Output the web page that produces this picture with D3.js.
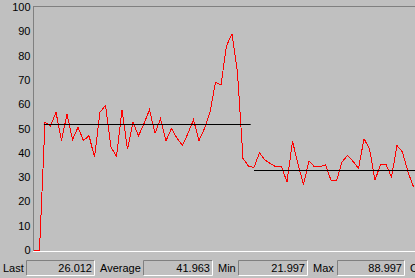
<!DOCTYPE html>
<html>
<head>
<meta charset="utf-8">
<script src="https://cdn.jsdelivr.net/npm/d3@7"></script>
<style>
  html, body { margin: 0; padding: 0; background: #c0c0c0; }
  svg { display: block; font-family: "Liberation Sans", Arial, sans-serif; }
</style>
</head>
<body>
<div class="monitor"></div>
<script>
// samples, one per step
const samples = [
  0, 0, 52.5, 51, 56.7, 45, 56, 45.4, 50.5, 45,
  47.1, 38.2, 56.7, 59.5, 42.3, 38.5, 57.7, 41.5, 52.6, 47,
  52, 57.7, 48, 54, 45, 50, 46, 43, 48, 53.6,
  45, 50, 56.7, 69, 68, 84, 89, 73, 37.7, 34.5,
  34, 40, 37, 35.5, 34.2, 34.2, 28, 44.8, 35.3, 27,
  36.7, 34.2, 34.2, 35.1, 28.7, 28.4, 36.2, 38.9, 36.5, 33.5,
  45.8, 41.7, 28.7, 35.2, 35.2, 30, 43, 40.3, 32.1, 26
];

// average levels (black lines), given as sample index ranges
const meanStart = [1.8, 40];
const meanEnd = [39.4, 70];
const meanValue = [51.9, 33.1];

const yTicks = [0, 10, 20, 30, 40, 50, 60, 70, 80, 90, 100];

const statLabels = ["Last", "Average", "Min", "Max"];
const statValues = ["26.012", "41.963", "21.997", "88.997"];

const width = 415, height = 278;

const svg = d3.select(".monitor")
    .append("svg")
    .attr("width", width)
    .attr("height", height);

svg.append("rect")
    .attr("width", width)
    .attr("height", height)
    .attr("fill", "#c0c0c0");

const x = d3.scaleLinear()
    .domain([0, samples.length - 1])
    .range([34, 413.5]);

const y = d3.scaleLinear()
    .domain([0, 100])
    .range([250, 7]);

// frame
svg.append("line")
    .attr("x1", 33).attr("x2", width)
    .attr("y1", 6.5).attr("y2", 6.5)
    .attr("stroke", "#808080");
svg.append("line")
    .attr("x1", 33.5).attr("x2", 33.5)
    .attr("y1", 6).attr("y2", 251)
    .attr("stroke", "#808080");
svg.append("line")
    .attr("x1", 33).attr("x2", width)
    .attr("y1", 251.5).attr("y2", 251.5)
    .attr("stroke", "#ffffff");

const yAxis = svg.append("g")
    .attr("transform", "translate(33.5,0)")
    .call(d3.axisLeft(y).tickValues(yTicks).tickSize(0).tickPadding(3));
yAxis.select(".domain").remove();
yAxis.selectAll("text")
    .attr("font-size", 11)
    .attr("font-family", "Liberation Sans, Arial, sans-serif")
    .attr("fill", "#000");

// trace
const line = d3.line()
    .x((d, i) => x(i))
    .y(d => y(d));

svg.append("path")
    .datum(samples)
    .attr("fill", "none")
    .attr("stroke", "#ff0000")
    .attr("stroke-width", 1)
    .attr("shape-rendering", "crispEdges")
    .attr("d", line);

svg.append("g")
    .selectAll("line")
    .data(meanValue)
    .join("line")
    .attr("x1", (d, i) => x(meanStart[i]))
    .attr("x2", (d, i) => Math.min(width, x(meanEnd[i])))
    .attr("y1", d => Math.round(y(d)) + 0.5)
    .attr("y2", d => Math.round(y(d)) + 0.5)
    .attr("stroke", "#000")
    .attr("stroke-width", 1);

// status bar
const labelX = [3, 100, 218, 313];
const boxX = [26, 143, 238, 337];
const boxW = [69, 70, 70, 68];
const status = svg.append("g")
    .attr("font-size", 11);

statLabels.forEach((lab, i) => {
    status.append("text")
        .attr("x", labelX[i])
        .attr("y", 272)
        .text(lab);
    const b = status.append("g").attr("transform", `translate(${boxX[i]},260)`);
    b.append("path")
        .attr("d", `M0.5,15.5V0.5H${boxW[i] - 0.5}`)
        .attr("fill", "none")
        .attr("stroke", "#808080");
    b.append("path")
        .attr("d", `M0.5,15.5H${boxW[i] - 0.5}V0.5`)
        .attr("fill", "none")
        .attr("stroke", "#ffffff");
    b.append("text")
        .attr("x", boxW[i] - 3)
        .attr("y", 12)
        .attr("text-anchor", "end")
        .text(statValues[i]);
});

status.append("text")
    .attr("x", 410)
    .attr("y", 272)
    .text("Current");
</script>
</body>
</html>
